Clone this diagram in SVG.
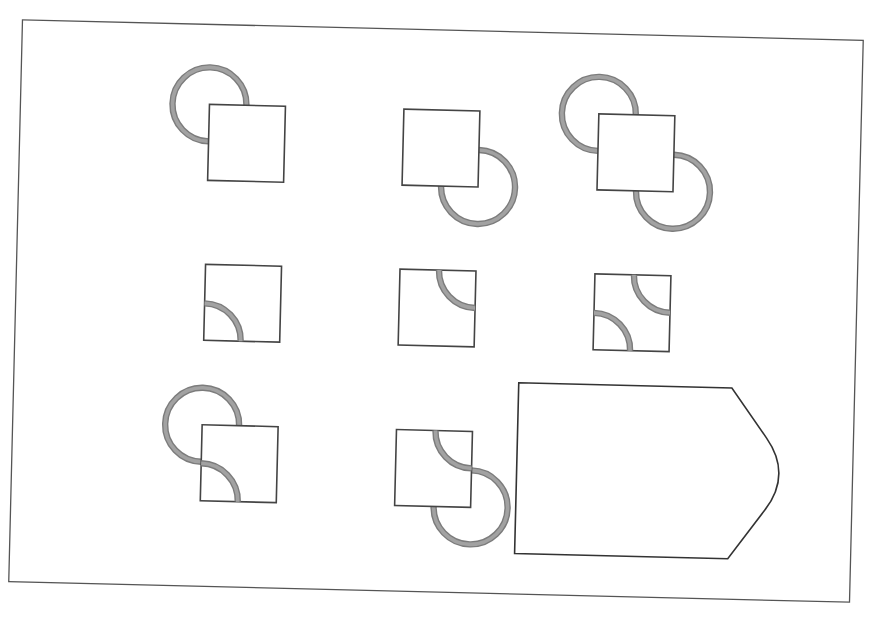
<svg xmlns="http://www.w3.org/2000/svg" width="875" height="628" viewBox="0 0 875 628">
<style>
.frame{fill:none;stroke:#555;stroke-width:1.3}
.sq{fill:#fff;stroke:#444;stroke-width:1.6}
.ring{fill:none;stroke:#7c7c7c;stroke-width:6.4}
.ringc{fill:none;stroke:#a2a2a2;stroke-width:3.6}
.tag{fill:#fff;stroke:#333;stroke-width:1.6;stroke-linejoin:miter}
</style>
<defs>
<circle id="c" r="37"/>
</defs>
<rect width="875" height="628" fill="#fff"/>
<g transform="rotate(1.4 436.75 310.75)">
<rect id="frame" class="frame" x="15.5" y="30" width="841" height="562"/>

<g id="n1">
<use href="#c" x="204.5" y="110" class="ring"/><use href="#c" x="204.5" y="110" class="ringc"/>
<rect class="sq" x="204.5" y="110" width="76" height="76"/>
</g>

<g id="n2">
<use href="#c" x="475" y="186" class="ring"/><use href="#c" x="475" y="186" class="ringc"/>
<rect class="sq" x="399" y="110" width="76" height="76"/>
</g>

<g id="n3">
<use href="#c" x="594" y="110" class="ring"/><use href="#c" x="594" y="110" class="ringc"/>
<use href="#c" x="670" y="186" class="ring"/><use href="#c" x="670" y="186" class="ringc"/>
<rect class="sq" x="594" y="110" width="76" height="76"/>
</g>

<g id="n4">
<rect class="sq" x="204.5" y="270" width="76" height="76"/>
<path class="ring" d="M204.5,309 A37,37 0 0 1 241.5,346"/>
<path class="ringc" d="M204.5,309 A37,37 0 0 1 241.5,346"/>
</g>

<g id="n5">
<rect class="sq" x="399" y="270" width="76" height="76"/>
<path class="ring" d="M438,270 A37,37 0 0 0 475,307"/>
<path class="ringc" d="M438,270 A37,37 0 0 0 475,307"/>
</g>

<g id="n6">
<rect class="sq" x="594" y="270" width="76" height="76"/>
<path class="ring" d="M633,270 A37,37 0 0 0 670,307"/>
<path class="ringc" d="M633,270 A37,37 0 0 0 670,307"/>
<path class="ring" d="M594,309 A37,37 0 0 1 631,346"/>
<path class="ringc" d="M594,309 A37,37 0 0 1 631,346"/>
</g>

<g id="n7">
<use href="#c" x="205" y="430.5" class="ring"/><use href="#c" x="205" y="430.5" class="ringc"/>
<rect class="sq" x="205" y="430.5" width="76" height="76"/>
<path class="ring" d="M205,469 A37.5,37.5 0 0 1 242.5,506.5"/>
<path class="ringc" d="M205,469 A37.5,37.5 0 0 1 242.5,506.5"/>
</g>

<g id="n8">
<use href="#c" x="475.4" y="506.5" class="ring"/><use href="#c" x="475.4" y="506.5" class="ringc"/>
<rect class="sq" x="399.4" y="430.5" width="76" height="76"/>
<path class="ring" d="M438.4,430.5 A37,37 0 0 0 475.4,467.5"/>
<path class="ringc" d="M438.4,430.5 A37,37 0 0 0 475.4,467.5"/>
</g>

<g id="n9">
<path class="tag" d="M520.5,380.7 L733.7,380.7 L769.6,430 Q795.9,466 769.6,502 L733.7,551.5 L520.5,551.5 Z"/>
</g>
</g>
</svg>
